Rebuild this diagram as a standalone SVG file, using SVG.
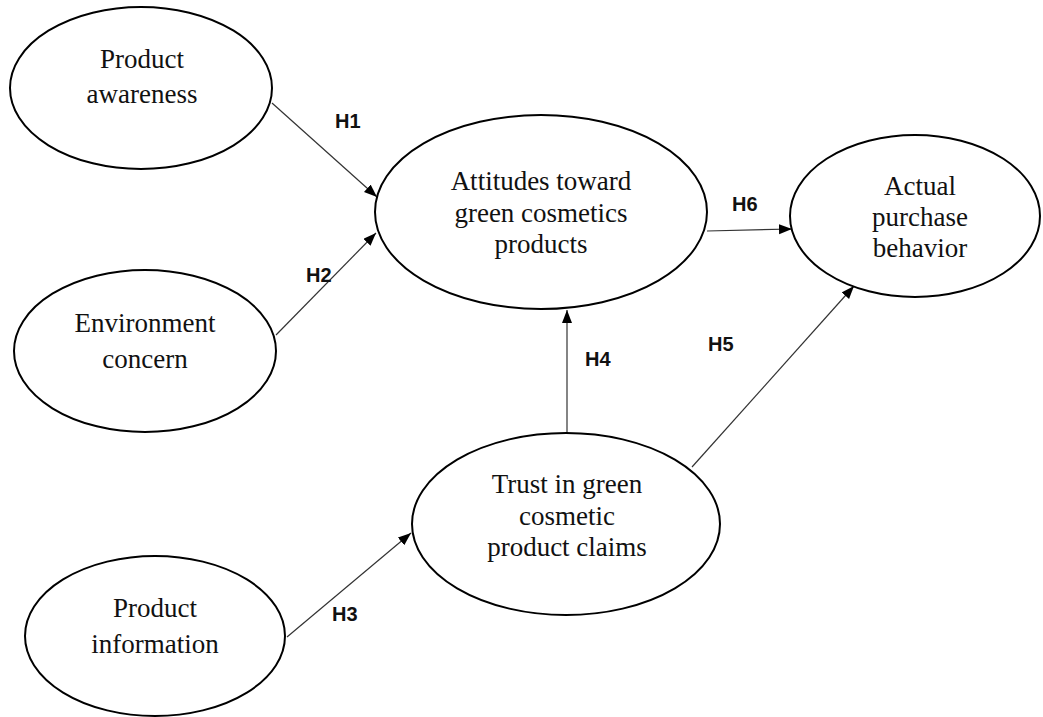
<svg xmlns="http://www.w3.org/2000/svg" width="1043" height="717" viewBox="0 0 1043 717">
<style>
.node{fill:#fff;stroke:#000;stroke-width:2}
.t{font-family:"Liberation Serif","Times New Roman",serif;font-size:27px;fill:#111;text-anchor:middle}
.lbl{font-family:"Liberation Sans",Arial,sans-serif;font-size:20px;font-weight:bold;fill:#111}
.edge{stroke:#333;stroke-width:1.2;fill:none;marker-end:url(#arr)}
</style>
<defs>
<marker id="arr" markerUnits="userSpaceOnUse" markerWidth="14" markerHeight="12" refX="13" refY="5" orient="auto">
<path d="M0,0 L13,5 L0,10 Z" fill="#000"/>
</marker>
</defs>
<rect width="1043" height="717" fill="#fff"/>
<g id="connectors">
<line class="edge" x1="272" y1="103" x2="377" y2="197"/>
<line class="edge" x1="276" y1="335" x2="376" y2="233"/>
<line class="edge" x1="287" y1="637" x2="411" y2="533"/>
<line class="edge" x1="567" y1="433" x2="567" y2="310"/>
<line class="edge" x1="692" y1="467" x2="854" y2="286"/>
<line class="edge" x1="707" y1="231" x2="792" y2="229"/>
<text class="lbl" x="335" y="128">H1</text>
<text class="lbl" x="306" y="282">H2</text>
<text class="lbl" x="332" y="621">H3</text>
<text class="lbl" x="585" y="366">H4</text>
<text class="lbl" x="708" y="351">H5</text>
<text class="lbl" x="732" y="211">H6</text>
</g>
<g id="product-awareness">
<ellipse class="node" cx="141" cy="88" rx="131" ry="81"/>
<text class="t" x="142" y="68">Product</text>
<text class="t" x="142" y="103">awareness</text>
</g>
<g id="environment-concern">
<ellipse class="node" cx="145" cy="351" rx="131" ry="81"/>
<text class="t" x="145" y="332">Environment</text>
<text class="t" x="145" y="368">concern</text>
</g>
<g id="product-information">
<ellipse class="node" cx="155" cy="636" rx="130" ry="80"/>
<text class="t" x="155" y="617">Product</text>
<text class="t" x="155" y="653">information</text>
</g>
<g id="attitudes">
<ellipse class="node" cx="541" cy="212" rx="166" ry="97"/>
<text class="t" x="541" y="190">Attitudes toward</text>
<text class="t" x="541" y="222">green cosmetics</text>
<text class="t" x="541" y="253">products</text>
</g>
<g id="actual-purchase">
<ellipse class="node" cx="915" cy="216" rx="125" ry="81"/>
<text class="t" x="920" y="195">Actual</text>
<text class="t" x="920" y="226">purchase</text>
<text class="t" x="920" y="257">behavior</text>
</g>
<g id="trust">
<ellipse class="node" cx="566" cy="524" rx="154" ry="91"/>
<text class="t" x="567" y="493">Trust in green</text>
<text class="t" x="567" y="525">cosmetic</text>
<text class="t" x="567" y="556">product claims</text>
</g>
</svg>
